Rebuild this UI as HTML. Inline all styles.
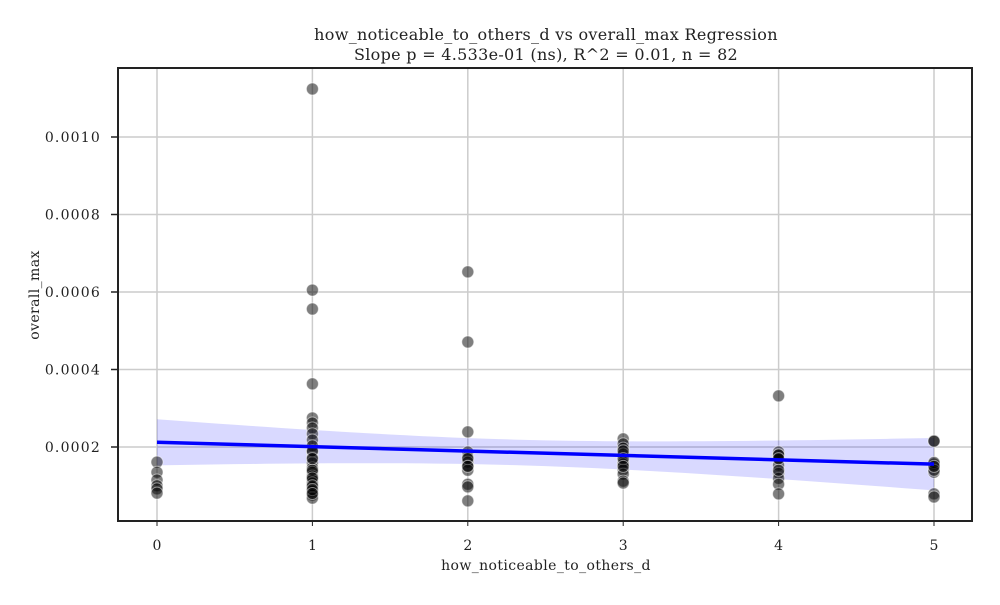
<!DOCTYPE html>
<html><head><meta charset="utf-8"><style>
body{margin:0;background:#fff}
svg text{font-family:"DejaVu Serif","Liberation Serif",serif;fill:#222}
</style></head><body>
<svg id="chart" width="1000" height="600" xmlns="http://www.w3.org/2000/svg">
<g id="grid"></g><g id="band"></g><g id="pts"></g><g id="fit"></g><g id="axes"></g>
<text x="546" y="40" text-anchor="middle" font-size="16" letter-spacing="0.3">how_noticeable_to_others_d vs overall_max Regression</text>
<text x="546" y="60" text-anchor="middle" font-size="16" letter-spacing="0.3">Slope p = 4.533e-01 (ns), R^2 = 0.01, n = 82</text>
<text x="546" y="570" text-anchor="middle" font-size="14" letter-spacing="0.4">how_noticeable_to_others_d</text>
<text transform="translate(39,295) rotate(-90)" text-anchor="middle" font-size="14" letter-spacing="0.4">overall_max</text>
</svg>
<script>
const xCats=[0,0,0,0,0,0, 1,1,1,1,1,1,1,1,1,1,1,1,1,1,1,1,1,1,1,1,1,1,1,1,1,1,1,1,1, 2,2,2,2,2,2,2,2,2,2,2,2,2, 3,3,3,3,3,3,3,3,3,3,3,3,3, 4,4,4,4,4,4,4,4,4,4,4,4, 5,5,5,5,5,5,5,5,5];
const yVals=[0.000161,0.000135,0.000115,0.0001,0.000092,0.000081,
0.001124,0.000605,0.000556,0.000363,0.000275,0.000262,0.000249,0.000234,0.000218,0.000203,0.000187,0.000172,0.000159,0.000146,0.000135,0.000125,0.000115,0.000107,0.000097,0.000086,0.000076,0.000068,0.00019,0.00017,0.00014,0.00012,0.0001,0.00009,0.00008,
0.000652,0.000471,0.000239,0.000187,0.000174,0.000161,0.000151,0.00014,0.000104,0.000097,0.000061,0.00017,0.00015,
0.000221,0.000208,0.000197,0.000182,0.000161,0.000156,0.000141,0.00013,0.000112,0.000107,0.00019,0.00017,0.00015,
0.000332,0.000187,0.000179,0.000168,0.000153,0.000132,0.000119,0.000104,0.000079,0.00018,0.00017,0.00014,
0.000216,0.000156,0.000135,0.000079,0.000071,0.00016,0.00014,0.000215,0.00015];
const xTicks=[0,1,2,3,4,5];
const yTicks=[0.0002,0.0004,0.0006,0.0008,0.0010];
const L=118,R=972,T=68,B=521;
const sx=v=>157+v*155.4, sy=v=>524.5-v*387500;
const NS="http://www.w3.org/2000/svg";
function mk(p,t,a){const e=document.createElementNS(NS,t);for(const k in a)e.setAttribute(k,a[k]);document.getElementById(p).appendChild(e);return e;}
xTicks.forEach(t=>{const g=mk('grid','line',{x1:sx(t),x2:sx(t),y1:T,y2:B,stroke:'#ccc','stroke-width':1.5});

const tk=mk('axes','line',{x1:sx(t),x2:sx(t),y1:B,y2:B+5,stroke:'#222'});

const l=mk('axes','text',{x:sx(t),y:B+29,'text-anchor':'middle','font-size':14});l.textContent=t;
});
yTicks.forEach(t=>{const g=mk('grid','line',{x1:L,x2:R,y1:sy(t),y2:sy(t),stroke:'#ccc','stroke-width':1.5});

const tk=mk('axes','line',{x1:L-7,x2:L,y1:sy(t),y2:sy(t),stroke:'#222','stroke-width':1.5});

const l=mk('axes','text',{x:L-17,y:sy(t)+5,'text-anchor':'end','font-size':14,'letter-spacing':1.2});l.textContent=t.toFixed(4);
});
const n=xCats.length,mx=xCats.reduce((a,b)=>a+b)/n,my=yVals.reduce((a,b)=>a+b)/n;
let sxx=0,sxy=0;xCats.forEach((x,i)=>{sxx+=(x-mx)**2;sxy+=(x-mx)*(yVals[i]-my);});
const b1=sxy/sxx,b0=my-b1*mx;let sse=0;xCats.forEach((x,i)=>{sse+=(yVals[i]-b0-b1*x)**2;});
const se=Math.sqrt(sse/(n-2)),tq=1.99;
const xs=[];for(let i=0;i<=50;i++)xs.push(i/10);
const up=xs.map(x=>b0+b1*x+tq*se*Math.sqrt(1/n+(x-mx)**2/sxx));
const lo=xs.map(x=>b0+b1*x-tq*se*Math.sqrt(1/n+(x-mx)**2/sxx));
let d='M'+xs.map((x,i)=>sx(x)+','+sy(up[i])).join('L')+'L'+xs.slice().reverse().map((x,j)=>sx(x)+','+sy(lo[xs.length-1-j])).join('L')+'Z';
const band=mk('band','path',{d:d,fill:'#0000ff','fill-opacity':0.15});

xCats.forEach((x,i)=>{const c=mk('pts','circle',{cx:sx(x),cy:sy(yVals[i]),r:6,fill:'#000','fill-opacity':0.5,stroke:'#fff','stroke-opacity':0.5,'stroke-width':1});
});
const ln=mk('fit','line',{x1:sx(0),y1:sy(b0),x2:sx(5),y2:sy(b0+5*b1),stroke:'#0000ff','stroke-width':3.5});

const fr=mk('axes','rect',{x:L,y:T,width:R-L,height:B-T,fill:'none',stroke:'#222','stroke-width':2});

</script>
</body></html>
